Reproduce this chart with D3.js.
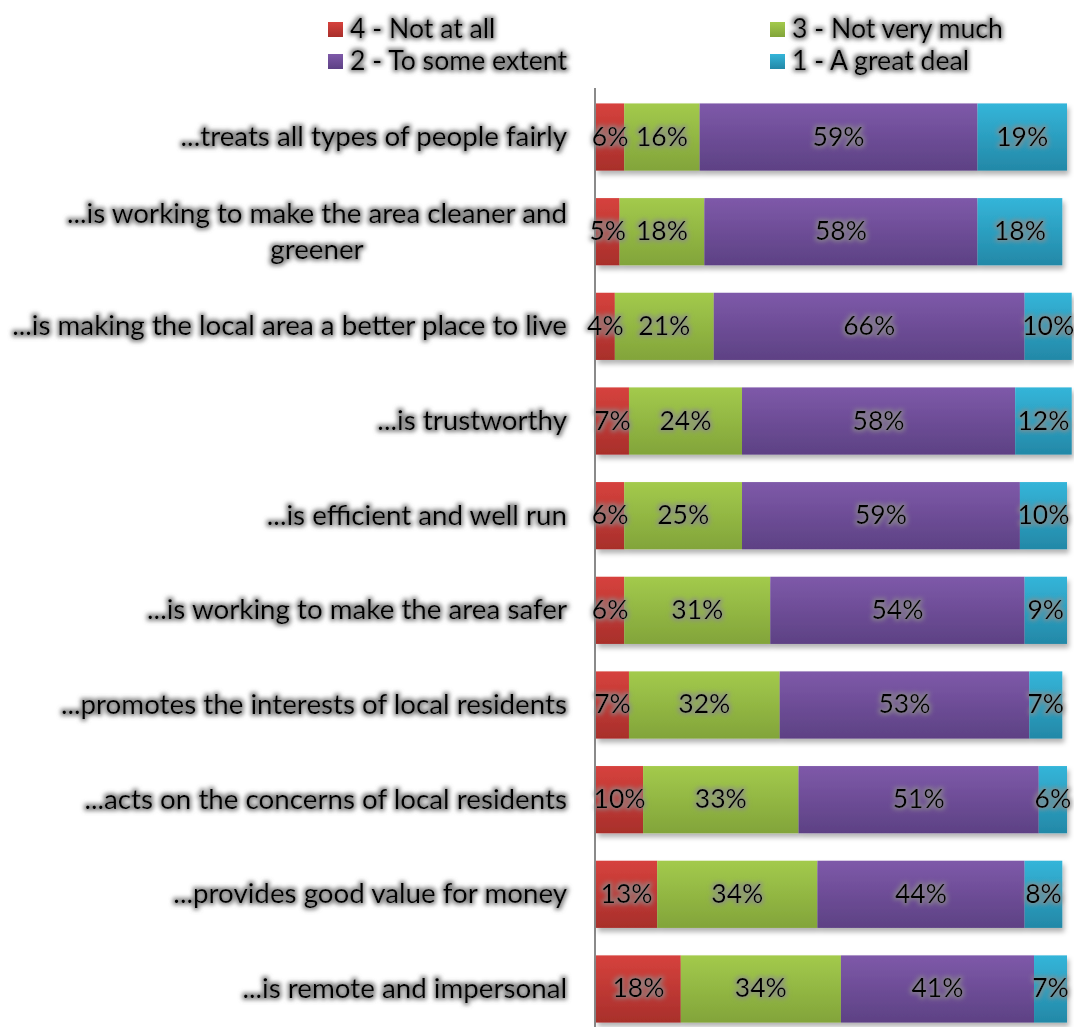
<!DOCTYPE html>
<html>
<head>
<meta charset="utf-8">
<script src="https://cdn.jsdelivr.net/npm/d3@7"></script>
<style>
  html, body { margin: 0; padding: 0; background: #fff; }
  svg { display: block; }
  text { font-family: Lato, "Open Sans", sans-serif; fill: #000; }
</style>
</head>
<body>
<svg id="chart" width="1074" height="1027"></svg>
<script>
// Statements about the council, in display order (top to bottom)
const categories = [
  "...treats all types of people fairly",
  "...is working to make the area cleaner and greener",
  "...is making the local area a better place to live",
  "...is trustworthy",
  "...is efficient and well run",
  "...is working to make the area safer",
  "...promotes the interests of local residents",
  "...acts on the concerns of local residents",
  "...provides good value for money",
  "...is remote and impersonal"
];

// Response shares (%), one array per answer
const notAtAll     = [6, 5, 4, 7, 6, 6, 7, 10, 13, 18];
const notVeryMuch  = [16, 18, 21, 24, 25, 31, 32, 33, 34, 34];
const someExtent   = [59, 58, 66, 58, 59, 54, 53, 51, 44, 41];
const greatDeal    = [19, 18, 10, 12, 10, 9, 7, 6, 8, 7];

const seriesNames = ["4 - Not at all", "3 - Not very much", "2 - To some extent", "1 - A great deal"];
const seriesKeys  = ["notAtAll", "notVeryMuch", "someExtent", "greatDeal"];

// top / bottom gradient colours for each answer
const seriesColors = [
  ["#d6423d", "#a82f2b"],
  ["#a3ca4c", "#82a43a"],
  ["#7e59a9", "#5d4184"],
  ["#34b5d9", "#2388a7"]
];

const rows = categories.map((c, i) => ({
  category: c,
  notAtAll: notAtAll[i],
  notVeryMuch: notVeryMuch[i],
  someExtent: someExtent[i],
  greatDeal: greatDeal[i]
}));

const svg = d3.select("#chart");
const defs = svg.append("defs");

// vertical gradients for the bar fills
seriesColors.forEach((c, i) => {
  const g = defs.append("linearGradient")
    .attr("id", "grad" + i)
    .attr("x1", 0).attr("y1", 0).attr("x2", 0).attr("y2", 1);
  g.append("stop").attr("offset", "0%").attr("stop-color", c[0]);
  g.append("stop").attr("offset", "100%").attr("stop-color", c[1]);
});

// soft grey halo behind text
function glowFilter(id, color, opacity, radius, blur) {
  const f = defs.append("filter").attr("id", id)
    .attr("x", "-15%").attr("y", "-40%").attr("width", "130%").attr("height", "180%");
  f.append("feMorphology").attr("in", "SourceAlpha").attr("operator", "dilate")
    .attr("radius", radius).attr("result", "dil");
  f.append("feGaussianBlur").attr("in", "dil").attr("stdDeviation", blur).attr("result", "blur");
  f.append("feFlood").attr("flood-color", color).attr("flood-opacity", opacity);
  f.append("feComposite").attr("in2", "blur").attr("operator", "in").attr("result", "glow");
  const m = f.append("feMerge");
  m.append("feMergeNode").attr("in", "glow");
  m.append("feMergeNode").attr("in", "SourceGraphic");
}
glowFilter("textGlow", "#777777", 0.85, 1.8, 2);
glowFilter("labelGlow", "#8c8c8c", 0.7, 1.8, 2);

// drop shadow under each bar
{
  const f = defs.append("filter").attr("id", "barShadow")
    .attr("x", "-5%").attr("y", "-20%").attr("width", "115%").attr("height", "160%");
  f.append("feGaussianBlur").attr("in", "SourceAlpha").attr("stdDeviation", 2.5).attr("result", "b");
  f.append("feOffset").attr("in", "b").attr("dx", 2).attr("dy", 4).attr("result", "o");
  f.append("feFlood").attr("flood-color", "#000").attr("flood-opacity", 0.3);
  f.append("feComposite").attr("in2", "o").attr("operator", "in").attr("result", "s");
  const m = f.append("feMerge");
  m.append("feMergeNode").attr("in", "s");
  m.append("feMergeNode").attr("in", "SourceGraphic");
}

// pick a font size that gives a string the wanted width
function fitSize(str, target) {
  const t = svg.append("text").style("font-size", "100px").text(str);
  const w = t.node().getComputedTextLength();
  t.remove();
  return 100 * target / w;
}
const catSize = fitSize(categories[2], 555);
const valSize = fitSize("59%", 52);
const legSize = fitSize(seriesNames[1], 211);
const textLift = -1.5;   // nudges text so glyphs sit centred on the row

// scales
const x = d3.scaleLinear().domain([0, 100]).range([596, 1067]);
const y = d3.scaleBand().domain(categories).range([89.7, 1036.3])
  .paddingInner(0.29).paddingOuter(0.145);

const stacked = d3.stack().keys(seriesKeys)(rows);

// category axis line
svg.append("line")
  .attr("x1", x(0) - 1).attr("x2", x(0) - 1)
  .attr("y1", 88).attr("y2", 1027)
  .attr("stroke", "#8a8a8a").attr("stroke-width", 2);

// bars, one shadowed group per row
const barRows = svg.append("g").selectAll("g")
  .data(rows.map((r, i) => i))
  .join("g")
  .attr("filter", "url(#barShadow)");

barRows.selectAll("rect")
  .data(i => stacked.map((s, k) => ({ k, d: s[i] })))
  .join("rect")
  .attr("x", e => x(e.d[0]))
  .attr("width", e => x(e.d[1]) - x(e.d[0]))
  .attr("y", e => y(e.d.data.category))
  .attr("height", y.bandwidth())
  .attr("fill", e => `url(#grad${e.k})`);

// value labels
const valLayer = svg.append("g");
stacked.forEach((s, k) => {
  valLayer.selectAll(null)
    .data(s)
    .join("text")
    .attr("x", d => (x(d[0]) + x(d[1])) / 2)
    .attr("y", d => y(d.data.category) + y.bandwidth() / 2 + textLift)
    .attr("text-anchor", "middle")
    .attr("dominant-baseline", "central")
    .attr("filter", "url(#labelGlow)")
    .style("font-size", valSize + "px")
    .text(d => (d[1] - d[0]) + "%");
});

// category labels, wrapped when too long, block right-aligned to the axis
const labelRight = x(0) - 29;
const maxLabelWidth = 562;
const lineGap = catSize * 1.3;
const catLayer = svg.append("g");
categories.forEach(cat => {
  const probe = catLayer.append("text").style("font-size", catSize + "px");
  const words = cat.split(" ");
  const lines = [];
  let line = [];
  words.forEach(w => {
    const trial = line.concat(w).join(" ");
    probe.text(trial);
    if (probe.node().getComputedTextLength() > maxLabelWidth && line.length) {
      lines.push(line.join(" "));
      line = [w];
    } else {
      line.push(w);
    }
  });
  lines.push(line.join(" "));
  const widths = lines.map(l => { probe.text(l); return probe.node().getComputedTextLength(); });
  probe.remove();
  const blockW = d3.max(widths);
  const cy = y(cat) + y.bandwidth() / 2 + textLift;
  const cx = labelRight - blockW / 2;
  lines.forEach((l, j) => {
    catLayer.append("text")
      .attr("x", lines.length > 1 ? cx : labelRight)
      .attr("y", cy + (j - (lines.length - 1) / 2) * lineGap)
      .attr("text-anchor", lines.length > 1 ? "middle" : "end")
      .attr("dominant-baseline", "central")
      .attr("filter", "url(#textGlow)")
      .style("font-size", catSize + "px")
      .text(l);
  });
});

// legend: two columns, two rows
const legendCols = [328, 770];
const legendRows = [29.5, 61.5];
const legend = svg.append("g");
seriesNames.forEach((name, i) => {
  const lx = legendCols[i % 2];
  const ly = legendRows[Math.floor(i / 2)];
  legend.append("rect")
    .attr("x", lx).attr("y", ly - 7.5)
    .attr("width", 15).attr("height", 15)
    .attr("fill", `url(#grad${i})`);
  legend.append("text")
    .attr("x", lx + 22).attr("y", ly + textLift)
    .attr("dominant-baseline", "central")
    .attr("filter", "url(#textGlow)")
    .style("font-size", legSize + "px")
    .text(name);
});
</script>
</body>
</html>
